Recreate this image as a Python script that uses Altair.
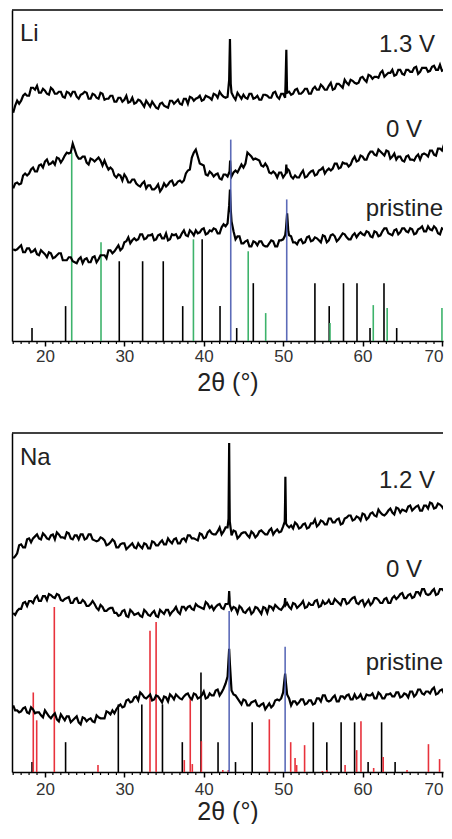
import altair as alt
import pandas as pd

# ---------------- data ----------------
two_theta = [round(16 + 0.5 * i, 2) for i in range(111)]
two_theta_mid = [round(16.25 + 0.5 * i, 2) for i in range(110)]

# Li panel traces (intensity, arbitrary units)
li_13v = [229,241,241,248,246,254,256,249,251,247, 252,248,250,244,249,250,245,247,250,243,
          248,244,249,242,243,246,240,244,242,239, 244,239,241,235,238,240,234,238,236,234,
          241,240,238,243,238,244,243,246,242,245, 242,247,250,245,245,249,242,246,247,243,
          248,244,242,247,246,244,250,243,248,249, 247,252,248,250,253,248,255,252,255,252,
          259,253,258,254,259,262,259,259,265,260, 266,265,264,271,267,269,266,272,268,272,
          270,274,268,274,274,271,276,272,271,276, 275]
li_13v_mid = [236,238,246,246,254,252,249,253,248,254, 248,250,245,250,246,250,243,248,249,243,
              247,243,248,243,246,240,244,240,246,240, 238,242,238,241,235,237,233,239,235,241,
              238,242,237,243,245,241,244,241,246,244, 248,244,247,244,283,245,249,243,244,248,
              243,246,242,247,244,249,245,248,244,250, 248,253,248,253,248,253,252,257,252,256,
              252,258,256,262,257,261,258,264,262,267, 263,265,269,265,269,272,267,272,267,272,
              270,275,270,274,270,275,272,277,272,275]
li_13v_peak_x = [43.2, 43.3, 43.4, 50.3, 50.4, 50.48]
li_13v_peak_y = [262, 303, 258, 258, 292, 255]

li_0v = [153,159,158,168,168,174,170,177,180,177, 180,184,179,186,188,198,186,183,185,177,
         182,182,181,181,172,172,164,166,167,159, 162,158,155,160,156,152,154,150,158,157,
         161,157,161,161,171,184,192,178,176,166, 168,167,163,167,165,165,171,173,174,189,
         185,183,181,175,175,168,168,169,164,173, 165,166,164,171,165,170,166,171,174,171,
         171,178,173,179,178,177,185,181,185,182, 190,187,192,188,191,183,188,185,181,185,
         182,181,187,187,187,191,187,193,191,198, 199]
li_0v_mid = [158,157,166,166,172,170,176,174,182,178, 177,183,182,189,189,192,183,185,179,183,
             180,184,176,176,174,166,167,161,164,159, 162,156,158,153,156,152,157,153,155,160,
             156,160,159,168,172,189,185,177,167,170, 165,168,162,167,170,169,169,177,178,187,
             182,182,176,178,169,170,164,169,167,171, 163,164,168,164,168,171,167,172,168,173,
             173,178,174,178,175,182,180,186,182,187, 190,186,190,186,190,185,182,185,180,186,
             182,185,182,188,185,191,186,193,197,193]
li_0v_peak_x = [43.25, 43.32, 43.4, 50.33, 50.4, 50.46]
li_0v_peak_y = [170, 181, 168, 168, 177, 168]

li_pristine = [92,92,96,89,93,90,87,91,87,89, 83,86,88,81,84,80,78,84,82,79,
               84,79,86,86,91,88,93,91,99,104, 101,101,107,102,106,107,102,107,103,101,
               107,107,104,111,105,109,111,109,113,108, 110,112,108,117,118,120,102,105,98,101,
               95,99,100,96,95,101,95,101,102,128, 105,99,101,98,104,100,104,101,106,99,
               106,105,102,108,104,102,108,107,107,110, 105,110,105,110,113,107,111,107,113,110,
               113,107,112,115,110,112,115,108,113,110, 114]
li_pristine_mid = [91,94,89,93,89,92,86,89,84,88, 84,88,81,81,84,79,82,78,83,79,
                   85,82,86,83,91,90,96,93,100,98, 103,102,107,103,106,101,106,103,108,102,
                   106,103,108,106,111,106,108,112,107,111, 113,108,114,115,144,110,105,98,100,95,
                   100,96,100,95,98,100,95,101,106,106, 99,97,102,99,105,101,103,99,105,101,
                   107,100,105,107,102,106,104,109,106,109, 104,109,106,113,108,106,112,109,113,109,
                   112,108,113,110,115,111,113,107,112,113]
li_pristine_peak_x = [43.2, 43.3, 43.4, 50.35, 50.65]
li_pristine_peak_y = [136, 152, 132, 112, 110]

# Li reference sticks
li_black_pos = [18.37, 22.6, 29.36, 32.3, 34.9, 37.35, 39.8, 42.05, 44.15, 46.24,
                54.0, 55.8, 57.6, 59.3, 60.94, 62.7, 64.3]
li_black_h = [13, 35, 80, 80, 80, 35, 102, 35, 13, 58, 58, 35, 58, 58, 13, 58, 13]
li_green_pos = [23.37, 27.06, 38.7, 45.6, 47.8, 55.9, 61.35, 63.1, 70.0]
li_green_h = [189, 99, 102, 90, 28, 18, 36, 33, 33]
li_blue_pos = [43.4, 50.45]
li_blue_h = [202, 142]

# Na panel traces
na_12v = [215,220,229,226,235,235,239,234,238,234, 239,241,236,235,240,234,238,239,234,239,
          234,232,236,233,229,234,226,229,230,226, 230,225,227,230,225,232,228,231,229,235,
          230,235,230,235,238,235,234,240,235,241, 240,239,246,242,246,238,242,237,241,238,
          242,236,242,241,239,245,242,241,247,248, 248,251,245,249,245,250,254,249,252,249,
          255,251,255,250,256,258,254,256,260,254, 260,258,264,259,260,265,259,265,264,262,
          268,265,268,263,268,271,265,270,267,266, 272]
na_12v_mid = [217,228,226,234,231,237,235,240,235,238, 234,239,236,241,235,238,234,239,235,239,
              233,233,235,228,231,232,226,230,224,228, 226,230,225,229,225,231,228,233,229,232,
              234,230,234,232,238,235,233,239,236,243, 239,242,239,246,275,243,235,240,241,236,
              240,238,243,239,243,239,244,242,275,246, 245,249,246,250,246,250,247,253,249,255,
              251,254,249,255,258,253,257,253,259,256, 261,257,261,258,263,261,266,261,263,267,
              263,267,263,268,265,270,266,269,264,271]
na_12v_peak_x = [43.12, 43.2, 43.28, 50.2, 50.28, 50.36]
na_12v_peak_y = [255, 331, 252, 252, 297, 250]

na_0v = [160,162,164,171,172,170,177,172,177,179, 176,179,173,174,176,170,175,170,171,167,
         172,165,168,162,164,165,160,158,163,156, 161,159,157,163,158,160,157,163,159,163,
         161,166,159,166,166,164,169,166,164,169, 167,166,169,164,169,163,165,167,161,163,
         159,166,162,166,160,166,168,164,166,170, 164,169,167,172,166,168,172,166,172,170,
         169,174,170,174,169,173,176,169,173,170, 168,175,173,170,175,170,177,176,180,175,
         179,176,181,184,179,179,184,179,184,186, 182]
na_0v_mid = [158,164,170,167,172,175,172,177,173,178, 175,178,172,175,170,174,170,173,167,169,
             169,163,166,162,165,160,157,162,157,163, 158,160,156,161,157,162,156,161,163,158,
             163,161,166,163,167,163,167,165,171,165, 163,168,165,169,175,166,160,165,160,165,
             161,165,159,165,167,163,166,163,175,166, 170,165,169,165,170,168,173,167,169,173,
             169,172,168,174,170,175,170,172,167,173, 170,175,170,174,170,175,174,179,175,178,
             175,181,178,184,178,182,178,184,182,187]
na_0v_peak_x = [43.12, 43.2, 43.28, 50.18, 50.25, 50.32]
na_0v_peak_y = [170, 182, 168, 169, 175, 168]

na_pristine = [67,62,61,65,59,63,60,57,62,56, 57,53,58,52,56,52,56,48,54,53,
               51,57,54,54,60,62,63,68,66,73, 71,76,80,75,76,72,77,73,76,71,
               76,78,74,76,79,73,78,75,81,75, 77,82,77,84,96,82,77,71,73,67,
               70,72,66,69,66,65,72,72,80,78, 67,71,70,73,69,72,69,74,77,72,
               72,77,71,76,77,73,78,75,73,78, 77,74,80,74,78,79,76,80,76,78,
               81,76,83,79,81,79,85,79,83,78, 82]
na_pristine_mid = [62,60,64,60,65,59,60,55,59,54, 59,51,55,56,50,54,50,55,51,54,
                   50,55,54,61,58,59,66,65,72,70, 75,72,78,74,78,73,76,70,75,78,
                   73,76,73,78,75,79,74,77,74,79, 77,83,80,89,116,78,74,68,72,67,
                   71,67,68,63,69,67,73,74,99,74, 71,68,73,68,72,68,74,71,77,71,
                   75,71,76,74,78,73,74,78,73,77, 79,74,78,74,78,76,80,75,79,75,
                   81,78,83,78,81,83,78,82,79,84]
na_pristine_peak_x = [43.1, 43.2, 43.3, 50.15, 50.25, 50.35]
na_pristine_peak_y = [110, 124, 108, 92, 99, 90]

# Na reference sticks
na_black_pos = [18.37, 22.6, 29.24, 32.2, 34.8, 37.3, 39.65, 41.8, 44.0, 46.1,
                53.8, 55.5, 57.3, 59.0, 60.7, 62.4, 64.1]
na_black_h = [10, 30, 68, 68, 68, 30, 100, 30, 10, 50, 50, 30, 50, 50, 10, 50, 10]
na_red_pos = [18.53, 18.96, 21.18, 26.68, 33.23, 34.0, 37.55, 38.3, 38.56, 39.7, 42.4, 43.1,
              48.26, 50.95, 51.5, 51.7, 52.7, 54.93, 55.5, 57.8, 59.26, 59.8, 61.4, 62.6,
              65.6, 68.3, 69.7]
na_red_h = [80, 52, 166, 7, 142, 151, 12, 74, 8, 31, 2, 2, 53, 30, 14, 7, 27, 1, 2, 7,
            22, 51, 4, 15, 2, 28, 13]
na_blue_pos = [43.2, 50.25]
na_blue_h = [162, 126]

major_ticks = [20, 30, 40, 50, 60, 70]
minor_ticks = [t for t in range(16, 71) if t % 10 != 0]

li_labels = ["Li", "1.3 V", "0 V", "pristine"]
na_labels = ["Na", "1.2 V", "0 V", "pristine"]
x_title = "2θ (°)"

# ---------------- chart ----------------
W = 431
FONT = "Liberation Sans"
x_scale = alt.Scale(domain=[15.85, 15.85 + W / 7.94], nice=False, zero=False)


def trace_df(name, vals, mids, px, py):
    df = pd.DataFrame({"x": two_theta + two_theta_mid + px,
                       "y": vals + mids + py})
    df = df.drop_duplicates(subset="x").sort_values("x")
    df["series"] = name
    return df


def stick_df(pos, h):
    return pd.DataFrame({"x": pos, "y": h})


def panel(H, ymax, traces, sticks_under, blue, labels, label_pos, label_pad, title_pad):
    x_enc = alt.X("x:Q", scale=x_scale, title=x_title,
                  axis=alt.Axis(values=major_ticks, tickSize=5, tickWidth=1.5,
                                tickColor="black", domainColor="black", domainWidth=1.5,
                                labelFontSize=17, labelColor="#333", labelPadding=label_pad,
                                labelFlush=4, labelFlushOffset=1,
                                labelFont=FONT, titleFont=FONT, titleFontSize=25,
                                titleFontWeight="normal", titleColor="#222",
                                titlePadding=title_pad, grid=False, format="d"))
    y_scale = alt.Scale(domain=[0, ymax], nice=False, zero=True)
    y_enc = alt.Y("y:Q", scale=y_scale,
                  axis=alt.Axis(labels=False, ticks=False, title=None, grid=False,
                                domainColor="black", domainWidth=1.5))
    layers = []
    for pos, h, col in sticks_under:
        layers.append(alt.Chart(stick_df(pos, h)).mark_rule(color=col, strokeWidth=1.6, clip=True)
                      .encode(x=x_enc, y=y_enc, y2=alt.datum(0)))
    tdf = pd.concat(traces, ignore_index=True)
    layers.append(alt.Chart(tdf).mark_line(color="black", strokeWidth=2.2, strokeJoin="miter", clip=True)
                  .encode(x=x_enc, y=y_enc, detail="series:N", order="x:Q"))
    pos, h, col = blue
    layers.append(alt.Chart(stick_df(pos, h)).mark_rule(color=col, strokeWidth=1.6, opacity=0.9)
                  .encode(x=x_enc, y=y_enc, y2=alt.datum(0)))
    # minor ticks on the 2θ axis
    layers.append(alt.Chart(pd.DataFrame({"x": minor_ticks})).mark_rule(color="black", strokeWidth=1.2)
                  .encode(x=x_enc, y=alt.value(H), y2=alt.value(H + 3)))
    # top frame line
    layers.append(alt.Chart(pd.DataFrame({"a": [0]})).mark_rule(color="black", strokeWidth=1.5)
                  .encode(x=alt.value(0), x2=alt.value(W), y=alt.value(0)))
    for text, (tx, ty, al) in zip(labels, label_pos):
        layers.append(alt.Chart(pd.DataFrame({"label": [text]}))
                      .mark_text(align=al, baseline="alphabetic", fontSize=24, font=FONT, color="#222")
                      .encode(x=alt.value(tx), y=alt.value(ty), text="label:N"))
    return alt.layer(*layers).properties(width=W, height=H)


li_panel = panel(
    331, 332,
    [trace_df("1.3 V", li_13v, li_13v_mid, li_13v_peak_x, li_13v_peak_y),
     trace_df("0 V", li_0v, li_0v_mid, li_0v_peak_x, li_0v_peak_y),
     trace_df("pristine", li_pristine, li_pristine_mid, li_pristine_peak_x, li_pristine_peak_y)],
    [(li_black_pos, li_black_h, "black"), (li_green_pos, li_green_h, "#3db36b")],
    (li_blue_pos, li_blue_h, "#4a5bb0"),
    li_labels,
    [(8, 31, "left"), (423, 42, "right"), (410, 127, "right"), (431, 206, "right")],
    2, 6,
)

na_panel = panel(
    339, 341,
    [trace_df("1.2 V", na_12v, na_12v_mid, na_12v_peak_x, na_12v_peak_y),
     trace_df("0 V", na_0v, na_0v_mid, na_0v_peak_x, na_0v_peak_y),
     trace_df("pristine", na_pristine, na_pristine_mid, na_pristine_peak_x, na_pristine_peak_y)],
    [(na_black_pos, na_black_h, "black"), (na_red_pos, na_red_h, "#e8323c")],
    (na_blue_pos, na_blue_h, "#4a5bb0"),
    na_labels,
    [(8, 32, "left"), (423, 55, "right"), (410, 144, "right"), (431, 237, "right")],
    4, 2,
)

chart = (
    alt.vconcat(li_panel, na_panel, spacing=37)
    .properties(padding={"left": 3, "top": 1, "right": 0, "bottom": 0})
    .configure_view(stroke=None)
)

chart.save("out.html", embed_options={"renderer": "svg", "actions": False})
